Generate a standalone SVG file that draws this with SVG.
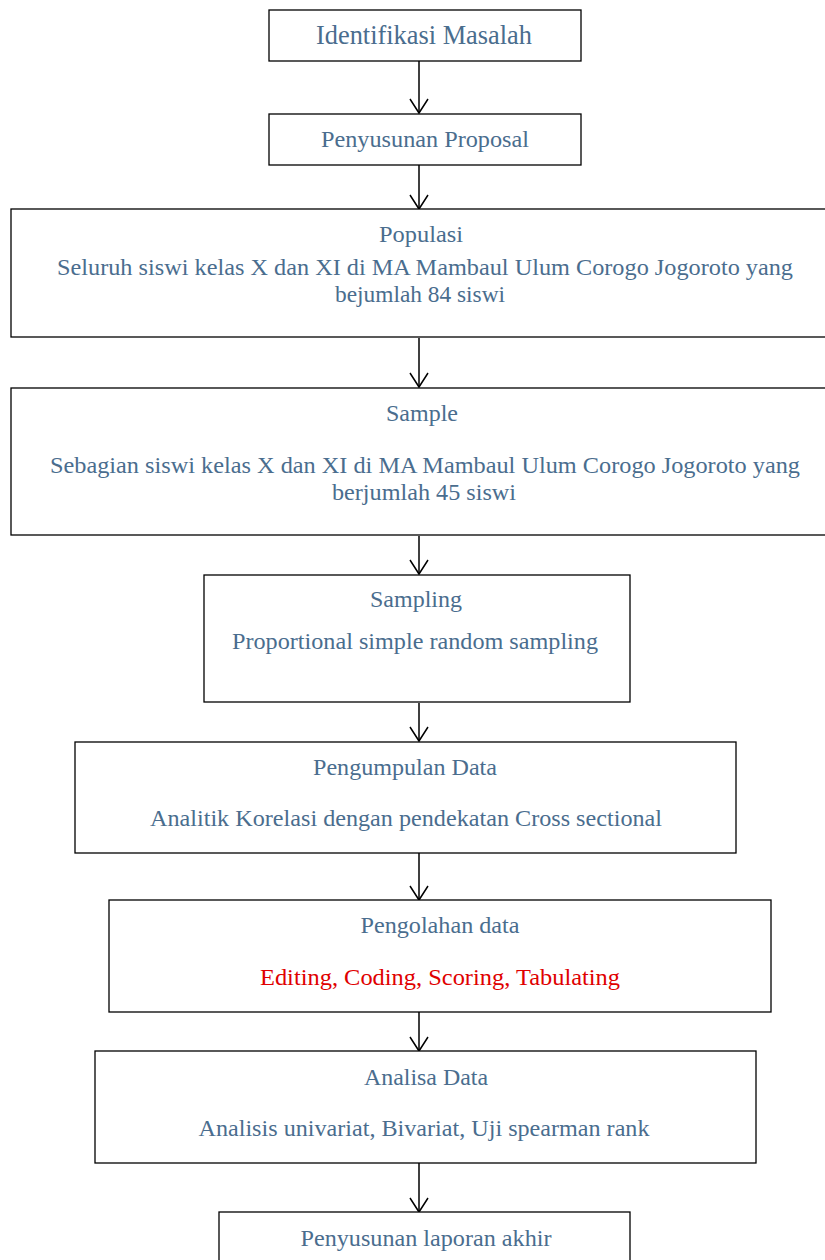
<svg xmlns="http://www.w3.org/2000/svg" width="825" height="1260" viewBox="0 0 825 1260">
<style>
.box{fill:#fff;stroke:#000;stroke-width:1.3}
.t{font-family:"Liberation Serif","Times New Roman",serif;font-size:24px;fill:#4a6d8e;text-anchor:middle}
.big{font-size:26.5px}
.red{fill:#e00000}
.con{stroke:#000;stroke-width:1.5;fill:none}
.head{stroke:#000;stroke-width:1.5;fill:none}
</style>
<rect width="825" height="1260" fill="#fff"/>
<g id="connectors">
<line class="con" x1="419" y1="61" x2="419" y2="113"/>
<polyline class="head" points="410,99 419,113 428,99"/>
<line class="con" x1="419" y1="165" x2="419" y2="209"/>
<polyline class="head" points="410,195 419,209 428,195"/>
<line class="con" x1="419" y1="338" x2="419" y2="387"/>
<polyline class="head" points="410,373 419,387 428,373"/>
<line class="con" x1="419" y1="536" x2="419" y2="574"/>
<polyline class="head" points="410,560 419,574 428,560"/>
<line class="con" x1="419" y1="703" x2="419" y2="741"/>
<polyline class="head" points="410,727 419,741 428,727"/>
<line class="con" x1="419" y1="853" x2="419" y2="900"/>
<polyline class="head" points="410,886 419,900 428,886"/>
<line class="con" x1="419" y1="1012" x2="419" y2="1051"/>
<polyline class="head" points="410,1037 419,1051 428,1037"/>
<line class="con" x1="419" y1="1163" x2="419" y2="1212"/>
<polyline class="head" points="410,1198 419,1212 428,1198"/>
</g>
<g id="n1">
<rect class="box" x="269" y="10" width="312" height="51"/>
<text class="t big" x="424" y="44" textLength="216" lengthAdjust="spacingAndGlyphs">Identifikasi Masalah</text>
</g>
<g id="n2">
<rect class="box" x="269" y="114" width="312" height="51"/>
<text class="t" x="425" y="147" textLength="208" lengthAdjust="spacingAndGlyphs">Penyusunan Proposal</text>
</g>
<g id="n3">
<rect class="box" x="11" y="209" width="820" height="128"/>
<text class="t" x="421" y="242" textLength="84" lengthAdjust="spacingAndGlyphs">Populasi</text>
<text class="t" x="425" y="275" textLength="736" lengthAdjust="spacingAndGlyphs">Seluruh siswi kelas X dan XI di MA Mambaul Ulum Corogo Jogoroto yang</text>
<text class="t" x="420" y="302" textLength="170" lengthAdjust="spacingAndGlyphs">bejumlah 84 siswi</text>
</g>
<g id="n4">
<rect class="box" x="11" y="388" width="820" height="147"/>
<text class="t" x="422" y="421" textLength="72" lengthAdjust="spacingAndGlyphs">Sample</text>
<text class="t" x="425" y="473" textLength="750" lengthAdjust="spacingAndGlyphs">Sebagian siswi kelas X dan XI di MA Mambaul Ulum Corogo Jogoroto yang</text>
<text class="t" x="424" y="500" textLength="184" lengthAdjust="spacingAndGlyphs">berjumlah 45 siswi</text>
</g>
<g id="n5">
<rect class="box" x="204" y="575" width="426" height="127"/>
<text class="t" x="416" y="607" textLength="92" lengthAdjust="spacingAndGlyphs">Sampling</text>
<text class="t" x="415" y="649" textLength="366" lengthAdjust="spacingAndGlyphs">Proportional simple random sampling</text>
</g>
<g id="n6">
<rect class="box" x="75" y="742" width="661" height="111"/>
<text class="t" x="405" y="775" textLength="184" lengthAdjust="spacingAndGlyphs">Pengumpulan Data</text>
<text class="t" x="406" y="826" textLength="512" lengthAdjust="spacingAndGlyphs">Analitik Korelasi dengan pendekatan Cross sectional</text>
</g>
<g id="n7">
<rect class="box" x="109" y="900" width="662" height="112"/>
<text class="t" x="440" y="933" textLength="159" lengthAdjust="spacingAndGlyphs">Pengolahan data</text>
<text class="t red" x="440" y="985" textLength="360" lengthAdjust="spacingAndGlyphs">Editing, Coding, Scoring, Tabulating</text>
</g>
<g id="n8">
<rect class="box" x="95" y="1051" width="661" height="112"/>
<text class="t" x="426" y="1085" textLength="124" lengthAdjust="spacingAndGlyphs">Analisa Data</text>
<text class="t" x="424" y="1136" textLength="451" lengthAdjust="spacingAndGlyphs">Analisis univariat, Bivariat, Uji spearman rank</text>
</g>
<g id="n9">
<rect class="box" x="219" y="1212" width="411" height="60"/>
<text class="t" x="426" y="1246" textLength="251" lengthAdjust="spacingAndGlyphs">Penyusunan laporan akhir</text>
</g>
</svg>
